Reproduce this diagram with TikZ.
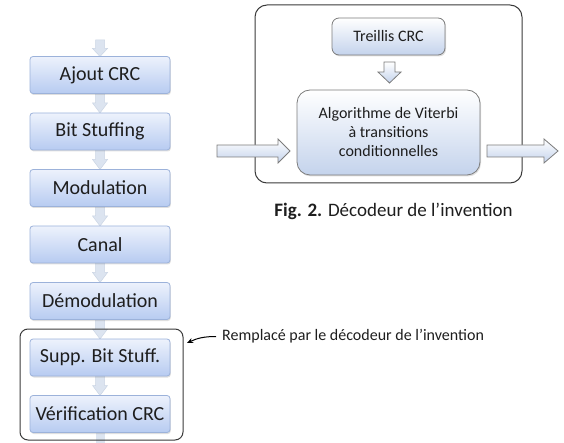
\documentclass[tikz,border=0pt]{standalone}
\usepackage{fontspec}
\setmainfont{Carlito}
\usetikzlibrary{shadows,arrows.meta,calc}
\definecolor{boxtop}{HTML}{EDF2FC}
\definecolor{boxbot}{HTML}{B7CBF1}
\definecolor{boxline}{HTML}{9CB2DA}
\definecolor{smallarr}{HTML}{DCE4F0}
\definecolor{smallline}{HTML}{CBD5E4}
\definecolor{txt}{HTML}{1E1E1E}
\definecolor{frameline}{HTML}{3A3A3A}
\definecolor{rtop}{HTML}{FFFFFF}
\definecolor{rbot}{HTML}{C4D3EC}
\definecolor{rline}{HTML}{7C7C7C}
% vertical block arrow: from, to, half shaft, half head, head length, style
\newcommand{\varrowblk}[6]{%
  \path[#6] let \p1=(#1), \p2=(#2) in
    (\x1-#3,\y1) -- (\x1-#3,\y2+#5) -- (\x1-#4,\y2+#5) -- (\x1,\y2)
    -- (\x1+#4,\y2+#5) -- (\x1+#3,\y2+#5) -- (\x1+#3,\y1) -- cycle;}
% horizontal block arrow
\newcommand{\harrowblk}[6]{%
  \path[#6] let \p1=(#1), \p2=(#2) in
    (\x1,\y1+#3) -- (\x2-#5,\y1+#3) -- (\x2-#5,\y1+#4) -- (\x2,\y1)
    -- (\x2-#5,\y1-#4) -- (\x2-#5,\y1-#3) -- (\x1,\y1-#3) -- cycle;}
\begin{document}
\begin{tikzpicture}[x=1pt,y=-1pt,
  lbox/.style={draw=boxline, line width=0.8pt, rounded corners=3pt,
    top color=boxtop, bottom color=boxbot, minimum width=140pt,
    minimum height=37pt, inner sep=0pt, text=txt,
    font=\fontsize{20}{22}\selectfont,
    drop shadow={shadow xshift=0.8pt, shadow yshift=-1.5pt, opacity=0.25}},
  rbox/.style={draw=rline, line width=0.8pt, top color=rtop, bottom color=rbot,
    inner sep=0pt, text=txt, align=center,
    font=\fontsize{16}{19}\selectfont,
    drop shadow={shadow xshift=1pt, shadow yshift=-1.5pt, opacity=0.25}},
  smallarrow/.style={fill=smallarr, draw=smallline, line width=0.5pt},
  bigarrow/.style={top color=rtop, bottom color=rbot, draw=rline, line width=0.8pt},
  frame/.style={draw=frameline, line width=1pt, rounded corners=10pt}]
\useasboundingbox (0,0) rectangle (564,443);

% ---------- left column ----------
\coordinate (top) at (100,40);
\coordinate (b1) at (100,75);
\coordinate (b2) at (100,131.5);
\coordinate (b3) at (100,188);
\coordinate (b4) at (100,244.5);
\coordinate (b5) at (100,301);
\coordinate (b6) at (100,357.5);
\coordinate (b7) at (100,414);
\coordinate (t1) at (100,56.5);
% small arrows (drawn first, behind boxes)
\varrowblk{top}{t1}{4.5pt}{7.5pt}{8pt}{smallarrow}
\foreach \i/\j in {1/2,2/3,3/4,4/5,5/6,6/7}{
  \path ($(b\j)+(0,-18.5)$) coordinate (tip);
  \varrowblk{b\i}{tip}{4.5pt}{7.5pt}{10pt}{smallarrow}
}
\fill[smallarr] (95.5,430) rectangle (104.5,443);

\node[lbox] (n1) at (b1) {Ajout CRC};
\node[lbox] (n2) at (b2) {Bit Stuffing};
\node[lbox] (n3) at (b3) {Modulation};
\node[lbox] (n4) at (b4) {Canal};
\node[lbox] (n5) at (b5) {Démodulation};
\node[lbox] (n6) at (b6) {Supp. Bit Stuff.};
\node[lbox] (n7) at (b7) {Vérification CRC};

% bracket frame
\draw[frame, rounded corners=8pt] (20,329) rectangle (183,440);
\coordinate (brk) at (187,343);
\node[anchor=west, inner sep=0pt, text=txt, font=\fontsize{16}{18}\selectfont] (lab) at (222,336.5) {Remplacé par le décodeur de l’invention};
\draw[-{Stealth[length=6pt,width=5pt]}, line width=1pt, black] ($(lab.west)+(-6,0)$) to[out=180,in=25] (brk);

% ---------- right figure ----------
\draw[frame, rounded corners=12pt] (255,5) rectangle (522,183);
\node[rbox, rounded corners=7pt, minimum width=113pt, minimum height=37pt] (tre) at (388.5,36.5) {Treillis CRC};
\node[rbox, rounded corners=13pt, minimum width=183pt, minimum height=85pt] (alg) at (388.5,132.5)
  {Algorithme de Viterbi\\à transitions\\conditionnelles};
\coordinate (dA) at (389.5,62);
\coordinate (dB) at (389.5,83);
\varrowblk{dA}{dB}{5.5pt}{11.5pt}{11pt}{bigarrow}
\coordinate (inA) at (217,151);
\coordinate (inB) at (290,151);
\harrowblk{inA}{inB}{6pt}{12pt}{12pt}{bigarrow}
\coordinate (outA) at (487,151);
\coordinate (outB) at (558,151);
\harrowblk{outA}{outB}{6pt}{12pt}{14pt}{bigarrow}

\node[inner sep=0pt, text=txt, font=\fontsize{19}{21}\selectfont] (cap) at (393.5,211)
  {\textbf{Fig. 2.} Décodeur de l’invention};
\end{tikzpicture}
\end{document}
